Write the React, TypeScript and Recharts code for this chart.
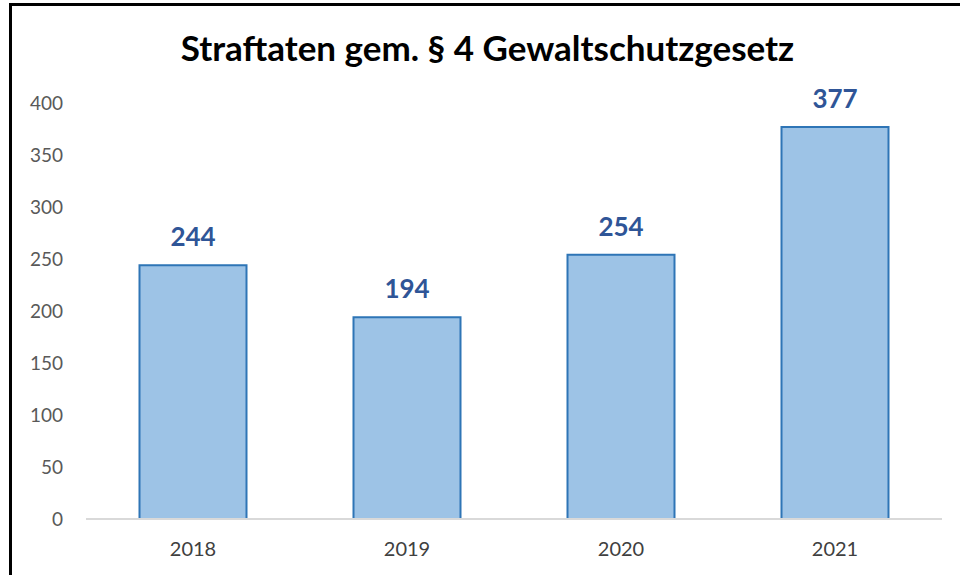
import { BarChart, Bar, XAxis, YAxis, LabelList } from 'recharts';

const years = ['2018', '2019', '2020', '2021'];
const offences = [244, 194, 254, 377];
const yTicks = [0, 50, 100, 150, 200, 250, 300, 350, 400];

const data = years.map((year, i) => ({ year, value: offences[i] }));

const font = 'Lato, "Open Sans", sans-serif';

export default function App() {
  return (
    <div style={{ position: 'relative', width: 960, height: 575, overflow: 'hidden', background: '#fff', fontFamily: font }}>
      <style>{`body{margin:0}`}</style>
      <div
        style={{
          position: 'absolute',
          left: 9,
          top: 3,
          width: 980,
          height: 600,
          borderLeft: '3px solid #000',
          borderTop: '3px solid #000',
          boxSizing: 'border-box',
        }}
      />
      <div
        style={{
          position: 'absolute',
          left: 0,
          width: 975,
          top: 26,
          lineHeight: '42px',
          textAlign: 'center',
          fontSize: 35,
          fontWeight: 700,
          color: '#000',
        }}
      >
        Straftaten gem. § 4 Gewaltschutzgesetz
      </div>
      <div style={{ position: 'absolute', left: 0, top: 0 }}>
        <BarChart width={960} height={575} data={data} margin={{ top: 103, right: 18, bottom: 0, left: 0 }} barCategoryGap="25%">
          <YAxis
            width={86}
            domain={[0, 400]}
            ticks={yTicks}
            axisLine={false}
            tickLine={false}
            tickSize={0}
            tickMargin={23}
            tick={{ fontSize: 19, fill: '#595959', fontFamily: font }}
          />
          <XAxis
            dataKey="year"
            height={56}
            axisLine={{ stroke: '#d9d9d9', strokeWidth: 2 }}
            tickLine={false}
            tickSize={0}
            tickMargin={23}
            tick={{ fontSize: 20, fill: '#404040', fontFamily: font }}
          />
          <Bar dataKey="value" fill="#9dc3e6" stroke="#2e75b6" strokeWidth={2} isAnimationActive={false}>
            <LabelList
              dataKey="value"
              position="top"
              offset={19}
              style={{ fontSize: 26, fontWeight: 700, fill: '#2f5597', fontFamily: font }}
            />
          </Bar>
        </BarChart>
      </div>
    </div>
  );
}
